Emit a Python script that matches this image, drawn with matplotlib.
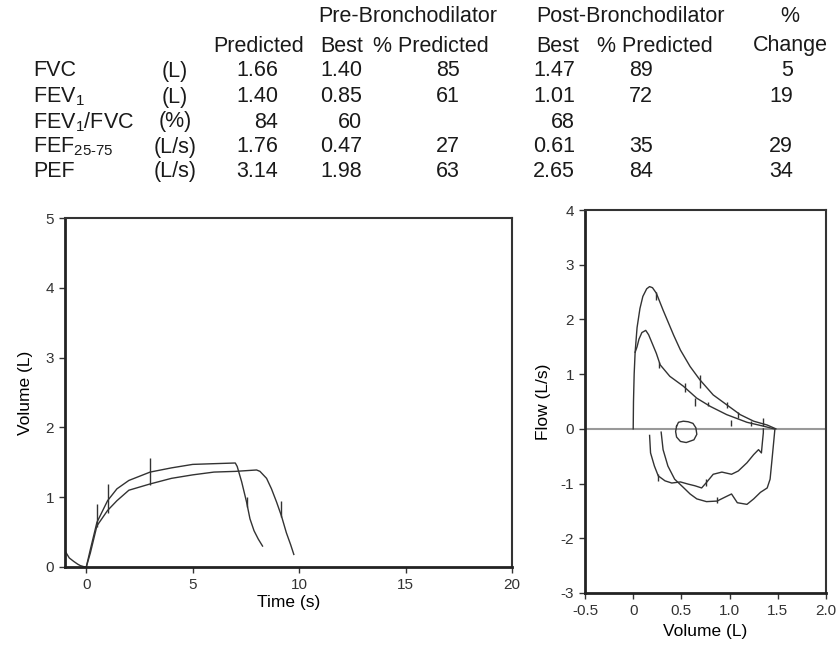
import matplotlib
matplotlib.use("Agg")
import matplotlib.pyplot as plt

plt.rcParams["font.family"] = ["Liberation Sans", "DejaVu Sans"]
plt.rcParams["mathtext.fontset"] = "custom"
plt.rcParams["mathtext.rm"] = "Liberation Sans"
plt.rcParams["mathtext.it"] = "Liberation Sans"
plt.rcParams["axes.unicode_minus"] = False

# ---- table values ----
row_names = ["FVC", r"FEV$_\mathregular{1}$", r"FEV$_\mathregular{1}$/FVC",
             r"FEF$_\mathregular{25\text{-}75}$", "PEF"]
units = ["(L)", "(L)", "(%)", "(L/s)", "(L/s)"]
predicted = ["1.66", "1.40", "84", "1.76", "3.14"]
pre_best = ["1.40", "0.85", "60", "0.47", "1.98"]
pre_pct = ["85", "61", "", "27", "63"]
post_best = ["1.47", "1.01", "68", "0.61", "2.65"]
post_pct = ["89", "72", "", "35", "84"]
pct_change = ["5", "19", "", "29", "34"]

# ---- volume-time curves ----
t_lead = [-1.0, -0.8, -0.59, -0.4, -0.28, -0.12, 0.0]
v_lead = [0.23, 0.13, 0.08, 0.04, 0.02, 0.005, 0.0]

t_post = [0.0, 0.19, 0.5, 1.0, 1.44, 2.0, 3.0, 4.0, 5.0, 5.97, 7.0, 7.09, 7.3,
          7.53, 7.69, 7.88, 8.08, 8.28]
v_post = [0.0, 0.25, 0.64, 0.95, 1.12, 1.24, 1.36, 1.42, 1.47, 1.48, 1.49, 1.44,
          1.22, 0.93, 0.69, 0.52, 0.40, 0.30]

t_pre = [0.0, 0.19, 0.5, 1.0, 1.44, 2.0, 3.0, 4.0, 5.0, 6.0, 7.0, 8.0, 8.16,
         8.47, 8.7, 8.94, 9.17, 9.4, 9.6, 9.75]
v_pre = [0.0, 0.2, 0.59, 0.81, 0.95, 1.1, 1.19, 1.27, 1.32, 1.36, 1.37, 1.39,
         1.37, 1.27, 1.12, 0.93, 0.73, 0.49, 0.32, 0.18]

vt_tick_t = [0.5, 1.0, 3.0, 7.55, 9.15]
vt_tick_lo = [0.57, 0.78, 1.17, 0.86, 0.71]
vt_tick_hi = [0.90, 1.19, 1.56, 1.0, 0.95]

# ---- flow-volume curves ----
vol_post = [0.0, 0.003, 0.01, 0.02, 0.04, 0.07, 0.10, 0.14, 0.17, 0.20, 0.24,
            0.31, 0.42, 0.49, 0.59, 0.69, 0.83, 0.97, 1.11, 1.25, 1.39, 1.48]
flow_post = [0.0, 0.5, 1.0, 1.4, 1.85, 2.2, 2.42, 2.56, 2.6, 2.58, 2.48,
             2.17, 1.71, 1.44, 1.14, 0.9, 0.62, 0.44, 0.26, 0.14, 0.07, 0.0]

vol_pre = [0.02, 0.04, 0.06, 0.09, 0.13, 0.16, 0.20, 0.24, 0.28, 0.38, 0.52,
           0.66, 0.80, 0.97, 1.18, 1.35, 1.46]
flow_pre = [1.4, 1.5, 1.64, 1.76, 1.8, 1.72, 1.55, 1.38, 1.17, 0.96, 0.78,
            0.56, 0.41, 0.26, 0.12, 0.05, 0.0]

vol_insp_a = [0.29, 0.31, 0.36, 0.43, 0.52, 0.59, 0.66, 0.76, 0.87, 0.95, 1.02,
              1.08, 1.18, 1.25, 1.32, 1.39, 1.42, 1.44, 1.46, 1.47]
flow_insp_a = [-0.06, -0.38, -0.68, -0.92, -1.07, -1.19, -1.28, -1.33, -1.32,
               -1.25, -1.19, -1.35, -1.38, -1.28, -1.16, -1.08, -0.92, -0.56,
               -0.19, 0.0]

vol_insp_b = [0.17, 0.18, 0.22, 0.26, 0.33, 0.40, 0.49, 0.57, 0.64, 0.71, 0.76,
              0.83, 0.92, 1.02, 1.09, 1.18, 1.25, 1.30, 1.33, 1.34, 1.35, 1.35]
flow_insp_b = [-0.12, -0.44, -0.68, -0.86, -0.95, -0.99, -0.97, -1.01, -1.04,
               -1.08, -0.98, -0.83, -0.79, -0.83, -0.77, -0.62, -0.47, -0.38,
               -0.44, -0.25, -0.07, 0.0]

vol_loop = [0.45, 0.47, 0.52, 0.57, 0.62, 0.65, 0.66, 0.63, 0.55, 0.49, 0.45,
            0.44, 0.45]
flow_loop = [0.05, 0.12, 0.14, 0.13, 0.10, 0.02, -0.10, -0.20, -0.25, -0.23,
             -0.15, -0.05, 0.05]

fv_tick_v = [0.24, 0.27, 0.54, 0.64, 0.69, 0.78, 0.97, 1.01, 1.09, 1.22, 1.35,
             0.26, 0.76, 0.87]
fv_tick_lo = [2.35, 1.11, 0.68, 0.41, 0.75, 0.41, 0.38, 0.05, 0.2, 0.05, 0.05,
              -0.95, -1.05, -1.35]
fv_tick_hi = [2.5, 1.23, 0.84, 0.56, 0.99, 0.50, 0.50, 0.17, 0.3, 0.14, 0.2,
              -0.82, -0.92, -1.25]

ink = "#333333"
txt = "#1a1a1a"
fig = plt.figure(figsize=(8.36, 6.45), dpi=100)


def fx(x):
    return x / 836


def fy(y):
    return 1 - y / 645


# ---- table ----
fs = 15.5
fig.text(fx(318), fy(16), "Pre-Bronchodilator", fontsize=fs, va="center", color=txt)
fig.text(fx(536), fy(16), "Post-Bronchodilator", fontsize=fs, va="center", color=txt)
fig.text(fx(790), fy(16), "%", fontsize=fs, va="center", ha="center", color=txt)
for x, s in [(213, "Predicted"), (320, "Best"), (373, "% Predicted"),
             (536, "Best"), (597, "% Predicted"), (753, "Change")]:
    fig.text(fx(x), fy(46), s, fontsize=fs, va="center", color=txt)

row_y = [71, 97, 122, 147, 172]
for i, y in enumerate(row_y):
    fig.text(fx(33), fy(y), row_names[i], fontsize=fs, va="center", color=txt)
    fig.text(fx(175), fy(y), units[i], fontsize=fs, va="center", ha="center", color=txt)
    for x, col in [(278, predicted), (362, pre_best), (460, pre_pct),
                   (575, post_best), (653, post_pct), (793, pct_change)]:
        fig.text(fx(x), fy(y), col[i], fontsize=fs, va="center", ha="right", color=txt)

# ---- volume-time ----
ax1 = fig.add_axes([fx(65), fy(567), (512 - 65) / 836, (567 - 218) / 645])
ax1.plot(t_lead, v_lead, color=ink, lw=1)
ax1.plot(t_post, v_post, color=ink, lw=1)
ax1.plot(t_pre, v_pre, color=ink, lw=1)
ax1.vlines(vt_tick_t, vt_tick_lo, vt_tick_hi, color=ink, lw=1)
ax1.set_xlim(-1, 20)
ax1.set_ylim(0, 5)
ax1.set_xticks([0, 5, 10, 15, 20])
ax1.set_yticks([0, 1, 2, 3, 4, 5])
ax1.set_xlabel("Time (s)", fontsize=12.5, labelpad=2)
ax1.set_ylabel("Volume (L)", fontsize=12.5, labelpad=9)

# ---- flow-volume ----
ax2 = fig.add_axes([fx(585), fy(593), (826 - 585) / 836, (593 - 210) / 645])
ax2.axhline(0, color="#999999", lw=1.5, zorder=1)
ax2.plot(vol_post, flow_post, color=ink, lw=1)
ax2.plot(vol_pre, flow_pre, color=ink, lw=1)
ax2.plot(vol_insp_a, flow_insp_a, color=ink, lw=1)
ax2.plot(vol_insp_b, flow_insp_b, color=ink, lw=1)
ax2.plot(vol_loop, flow_loop, color=ink, lw=1)
ax2.vlines(fv_tick_v, fv_tick_lo, fv_tick_hi, color=ink, lw=1)
ax2.set_xlim(-0.5, 2.0)
ax2.set_ylim(-3, 4)
ax2.set_xticks([-0.5, 0, 0.5, 1.0, 1.5, 2.0])
ax2.set_xticklabels(["-0.5", "0", "0.5", "1.0", "1.5", "2.0"])
ax2.set_yticks(range(-3, 5))
ax2.set_xlabel("Volume (L)", fontsize=12.5, labelpad=4)
ax2.set_ylabel("Flow (L/s)", fontsize=12.5, labelpad=7)

for ax in (ax1, ax2):
    for side in ("left", "bottom"):
        ax.spines[side].set_linewidth(2)
        ax.spines[side].set_color("#222")
    for side in ("top", "right"):
        ax.spines[side].set_linewidth(1.5)
        ax.spines[side].set_color("#333")
    ax.tick_params(direction="out", length=4, width=1, labelsize=11,
                   colors="#333", pad=4)

fig.savefig("out.png", dpi=100)
